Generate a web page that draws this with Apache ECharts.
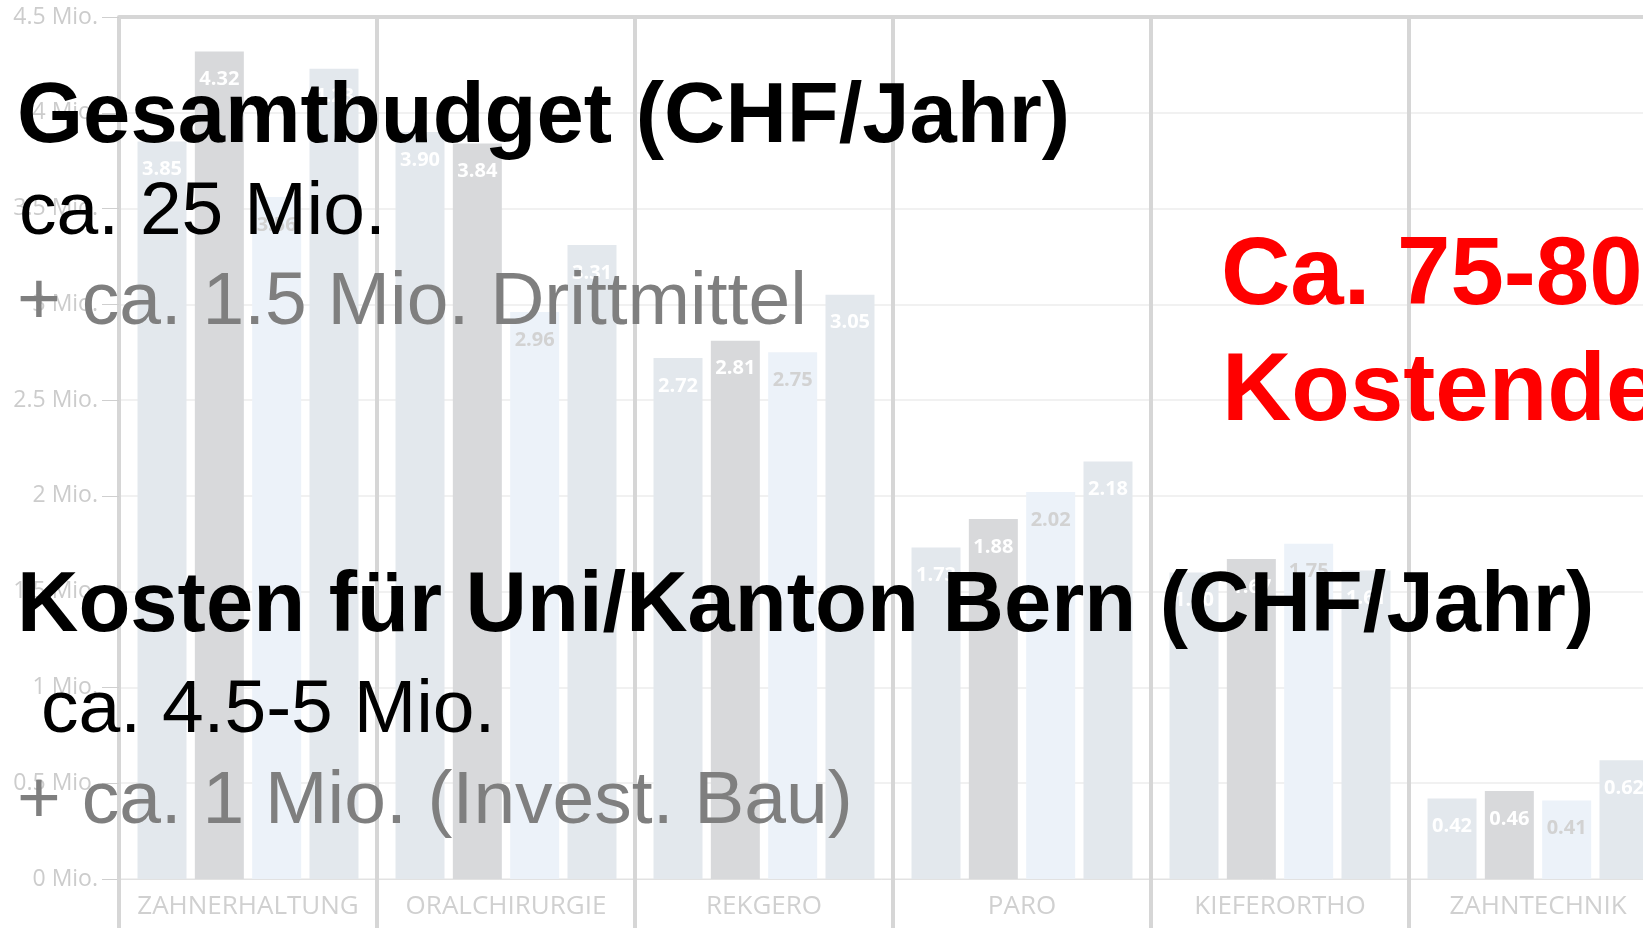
<!DOCTYPE html>
<html><head><meta charset="utf-8">
<script src="https://cdn.jsdelivr.net/npm/echarts@6/dist/echarts.min.js"></script>
<style>html,body{margin:0;padding:0;background:#fff;overflow:hidden}#c{width:1643px;height:928px}</style>
</head><body><div id="c"></div>
<script>
const categories = ['ZAHNERHALTUNG', 'ORALCHIRURGIE', 'REKGERO', 'PARO', 'KIEFERORTHO', 'ZAHNTECHNIK'];
const series1 = [3.85, 3.90, 2.72, 1.73, 1.60, 0.42];
const series2 = [4.32, 3.84, 2.81, 1.88, 1.67, 0.46];
const series3 = [3.56, 2.96, 2.75, 2.02, 1.75, 0.41];
const series4 = [4.23, 3.31, 3.05, 2.18, 1.61, 0.62];
const yTickLabels = ['0 Mio.', '0.5 Mio.', '1 Mio.', '1.5 Mio.', '2 Mio.', '2.5 Mio.', '3 Mio.', '3.5 Mio.', '4 Mio.', '4.5 Mio.'];

const overlayTexts = [
  { text: 'Gesamtbudget (CHF/Jahr)', x: 17, base: 143, size: 85, weight: 'bold', fill: '#000000' },
  { text: 'ca. 25 Mio.', x: 19, base: 235, size: 75, weight: 'normal', fill: '#000000' },
  { text: '+ ca. 1.5 Mio. Drittmittel', x: 17, base: 325, size: 75, weight: 'normal', fill: '#7f7f7f' },
  { text: 'Kosten für Uni/Kanton Bern (CHF/Jahr)', x: 17, base: 632, size: 85, weight: 'bold', fill: '#000000' },
  { text: 'ca. 4.5-5 Mio.', x: 41, base: 733, size: 75, weight: 'normal', fill: '#000000' },
  { text: '+ ca. 1 Mio. (Invest. Bau)', x: 17, base: 824, size: 75, weight: 'normal', fill: '#7f7f7f' },
  { text: 'Ca. 75-80', x: 1221, base: 305, size: 96, weight: 'bold', fill: '#ff0000' },
  { text: 'Kostendeckung', x: 1222, base: 421, size: 96, weight: 'bold', fill: '#ff0000' }
];

const chart = echarts.init(document.getElementById('c'), null, { renderer: 'canvas' });
const labelFont = { fontFamily: 'Open Sans', fontWeight: 'bold', fontSize: 20 };
function makeSeries(name, data, color, labelColor) {
  return {
    name: name, type: 'bar', data: data, barWidth: 49, barGap: '17%',
    itemStyle: { color: color },
    label: Object.assign({ show: true, position: 'insideTop', distance: 18, color: labelColor,
      formatter: p => p.value.toFixed(2) }, labelFont)
  };
}
const option = {
  animation: false,
  backgroundColor: '#ffffff',
  grid: { left: 119, top: 17, width: 1548, bottom: 49, containLabel: false, outerBoundsMode: 'none' },
  xAxis: [{
    type: 'category', data: categories, position: 'bottom',
    axisLine: { show: true, lineStyle: { color: '#e2e2e2', width: 1 } },
    axisTick: { show: true, interval: 0, length: 52, lineStyle: { color: '#d6d6d6', width: 4 } },
    axisLabel: { interval: 0, color: '#d0d0d0', fontFamily: 'Open Sans', fontSize: 26, margin: 15 },
    splitLine: { show: true, interval: 0, lineStyle: { color: '#d6d6d6', width: 4 } }
  }, {
    type: 'category', data: categories, position: 'top',
    axisLine: { show: true, lineStyle: { color: '#d6d6d6', width: 4 } },
    axisTick: { show: false }, axisLabel: { show: false }, splitLine: { show: false }
  }],
  yAxis: {
    type: 'value', min: 0, max: 4.5, interval: 0.5,
    axisLine: { show: false },
    axisTick: { show: true, length: 17, lineStyle: { color: '#cfcfcf', width: 1 } },
    axisLabel: { color: '#cccccc', fontFamily: 'Open Sans', fontSize: 23, margin: 21,
      formatter: (v, i) => yTickLabels[i] },
    splitLine: { show: true, lineStyle: { color: '#f1f1f1', width: 2 } }
  },
  series: [
    makeSeries('S1', series1, '#e3e8ed', '#ffffff'),
    makeSeries('S2', series2, '#d8d9db', '#ffffff'),
    makeSeries('S3', series3, '#ecf2f9', '#d2d2d2'),
    makeSeries('S4', series4, '#e3e8ed', '#ffffff')
  ],
  graphic: overlayTexts.map(t => ({
    type: 'text', z: 100, x: t.x, y: t.base - 0.29 * t.size,
    style: { text: t.text, fill: t.fill, fontFamily: '"Liberation Sans", Arial, sans-serif',
      fontWeight: t.weight, fontSize: t.size, verticalAlign: 'middle', align: 'left' }
  }))
};
chart.setOption(option);
</script></body></html>
